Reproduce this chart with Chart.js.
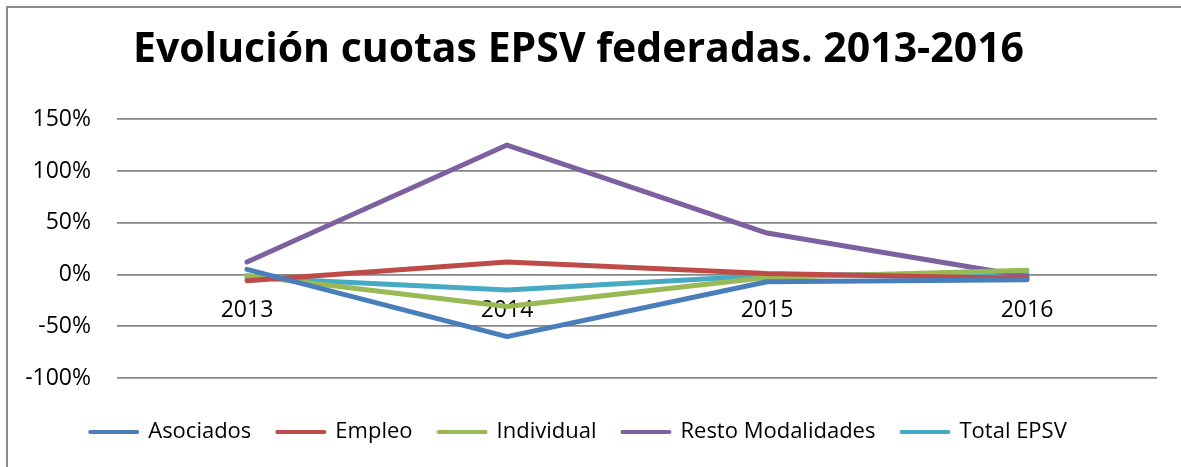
<!DOCTYPE html>
<html>
<head>
<meta charset="utf-8">
<script src="https://cdn.jsdelivr.net/npm/chart.js@4/dist/chart.umd.min.js"></script>
<style>
  html, body { margin: 0; padding: 0; background: #fff; }
  #wrap { position: relative; width: 1181px; height: 467px; overflow: hidden; }
  #frame { position: absolute; left: 6px; top: 6px; right: -10px; bottom: -10px;
           border-left: 2px solid #8c8c8c; border-top: 2px solid #8c8c8c; pointer-events: none; }
  canvas { position: absolute; left: 0; top: 0; }
</style>
</head>
<body>
<div id="wrap">
  <canvas id="chart" width="1181" height="467"></canvas>
  <div id="frame"></div>
</div>
<script>
// datos (variación anual, %)
const years = ['2013', '2014', '2015', '2016'];
const asociados = [5, -60, -7, -5];
const empleo = [-6, 12, 1, -4];
const individual = [-1, -31, -3, 4];
const restoModalidades = [12, 125, 40, -2];
const totalEPSV = [-3, -15, -1, 1];

const yTicks = [-100, -50, 0, 50, 100, 150];

const FONT = "'Open Sans', 'Noto Sans', sans-serif";

function serie(label, data, color) {
    return {
        label,
        data,
        borderColor: color,
        backgroundColor: color,
        borderWidth: 5,
        borderJoinStyle: 'round',
        borderCapStyle: 'round',
        pointRadius: 0,
        tension: 0,
        fill: false
    };
}

const ctx = document.getElementById('chart').getContext('2d');

new Chart(ctx, {
    type: 'line',
    data: {
        labels: years,
        datasets: [
            serie('Asociados', asociados, '#4a7ebb'),
            serie('Empleo', empleo, '#be4b48'),
            serie('Individual', individual, '#98b954'),
            serie('Resto Modalidades', restoModalidades, '#7d60a0'),
            serie('Total EPSV', totalEPSV, '#46aac5')
        ]
    },
    options: {
        responsive: false,
        animation: false,
        layout: { padding: { left: 0, right: 24, top: 0, bottom: 14 } },
        scales: {
            x: {
                position: { y: 0 },
                offset: true,
                grid: { display: false, drawTicks: false },
                border: { display: false },
                ticks: { padding: 22, color: '#000', font: { family: FONT, size: 23 } }
            },
            y: {
                min: -100,
                max: 150,
                afterBuildTicks: (scale) => { scale.ticks = yTicks.map(v => ({ value: v })); },
                afterFit: (scale) => { scale.width = 117; },
                grid: { color: '#878787', lineWidth: 1.8, drawTicks: false },
                border: { display: false },
                ticks: {
                    padding: 26,
                    color: '#000',
                    font: { family: FONT, size: 23 },
                    callback: (v) => v + '%'
                }
            }
        },
        plugins: {
            title: {
                display: true,
                text: 'Evolución cuotas EPSV federadas. 2013-2016',
                color: '#000',
                font: { family: FONT, size: 41, weight: 'bold', lineHeight: 1.2 },
                padding: { top: 26, bottom: 44 }
            },
            legend: {
                position: 'bottom',
                title: { display: true, text: '', font: { size: 10, lineHeight: 1 }, padding: { top: 7, bottom: 0 } },
                labels: {
                    boxWidth: 47,
                    boxHeight: 0,
                    padding: 26,
                    color: '#000',
                    font: { family: FONT, size: 22 },
                    generateLabels: (chart) =>
                        Chart.defaults.plugins.legend.labels.generateLabels(chart).map(l => ({
                            ...l, lineWidth: 4, lineJoin: 'round', lineCap: 'round', fillStyle: l.strokeStyle
                        }))
                }
            },
            tooltip: { enabled: false }
        }
    }
});
</script>
</body>
</html>
